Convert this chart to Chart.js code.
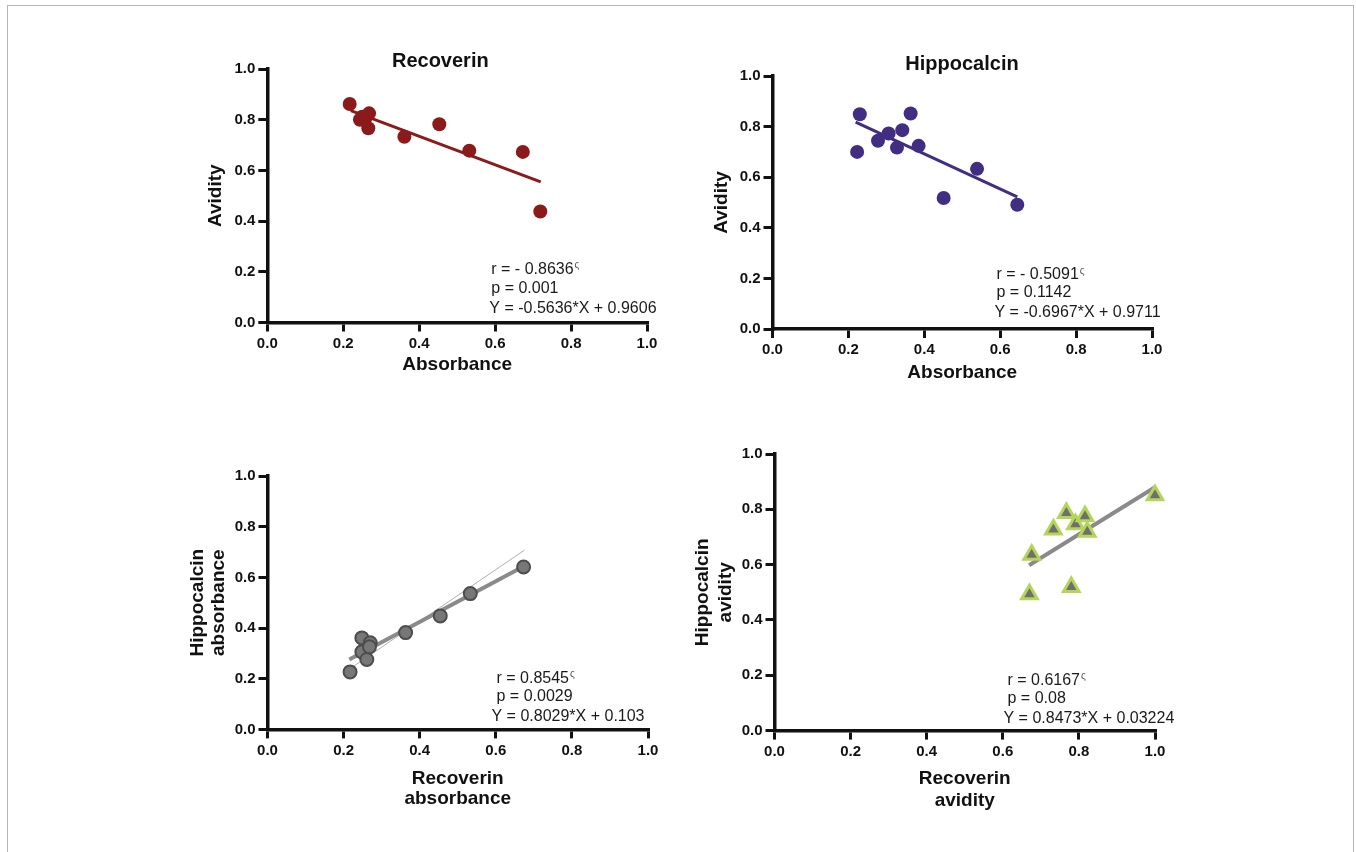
<!DOCTYPE html>
<html>
<head>
<meta charset="utf-8">
<title>Recoverin / Hippocalcin</title>
<script src="https://cdn.jsdelivr.net/npm/chart.js@4.4.1/dist/chart.umd.min.js"></script>
<style>
  html, body { margin: 0; padding: 0; background: #fff; }
  body { width: 1356px; height: 852px; position: relative; overflow: hidden; }
  #cadre { position: absolute; left: 7px; top: 5px; width: 1347px; height: 900px;
           border: 1.5px solid #b5b5b5; box-sizing: border-box; }
  .panneau { position: absolute; }
</style>
</head>
<body>
<div id="cadre"></div>
<div class="panneau" id="p1"></div>
<div class="panneau" id="p2"></div>
<div class="panneau" id="p3"></div>
<div class="panneau" id="p4"></div>

<script>
// Données
const recAbsorbance   = [0.217, 0.244, 0.250, 0.258, 0.268, 0.266, 0.361, 0.453, 0.532, 0.673, 0.719];
const recAvidite      = [0.862, 0.800, 0.812, 0.805, 0.825, 0.766, 0.733, 0.782, 0.678, 0.673, 0.438];
const recDroiteX      = [0.220, 0.720];
const recDroiteY      = [0.836, 0.555];

const hipAbsorbance   = [0.230, 0.223, 0.278, 0.306, 0.328, 0.342, 0.364, 0.385, 0.451, 0.539, 0.645];
const hipAvidite      = [0.849, 0.700, 0.744, 0.773, 0.717, 0.786, 0.852, 0.724, 0.518, 0.633, 0.491];
const hipDroiteX      = [0.219, 0.645];
const hipDroiteY      = [0.818, 0.522];

const absRecX         = [0.217, 0.248, 0.248, 0.261, 0.270, 0.268, 0.363, 0.454, 0.533, 0.673];
const absHipY         = [0.227, 0.361, 0.306, 0.276, 0.342, 0.326, 0.382, 0.448, 0.536, 0.641];
const absDroiteX      = [0.215, 0.675];
const absDroiteY      = [0.276, 0.645];
const absFineX        = [0.220, 0.675];
const absFineY        = [0.243, 0.707];

const avRecX          = [0.676, 0.670, 0.733, 0.767, 0.791, 0.780, 0.816, 0.822, 1.000];
const avHipY          = [0.636, 0.493, 0.727, 0.787, 0.746, 0.519, 0.775, 0.719, 0.851];
const avDroiteX       = [0.669, 1.000];
const avDroiteY       = [0.598, 0.880];

const TICKS_AXES      = [0, 0.2, 0.4, 0.6, 0.8, 1.0];

const NOTES_REC = ['r = - 0.8636', 'p = 0.001', 'Y = -0.5636*X + 0.9606'];
const NOTES_HIP = ['r = - 0.5091', 'p = 0.1142', 'Y = -0.6967*X + 0.9711'];
const NOTES_ABS = ['r = 0.8545', 'p = 0.0029', 'Y = 0.8029*X + 0.103'];
const NOTES_AV  = ['r = 0.6167', 'p = 0.08', 'Y = 0.8473*X + 0.03224'];

const POLICE = "'Liberation Sans', Arial, Helvetica, sans-serif";
Chart.defaults.font.family = POLICE;
Chart.defaults.color = '#111';

/**
 * Assemble deux tableaux en une liste de points {x, y}
 */
function points(xs, ys) {
    return xs.map((x, i) => ({ x: x, y: ys[i] }));
}

/**
 * Options communes d'un axe linéaire 0 → 1
 */
function optionsAxe(titre, hauteurLigne, taille, horizontal) {
    return {
        type     : 'linear',
        position : horizontal ? 'bottom' : 'left',
        min      : 0,
        max      : 1,
        afterBuildTicks : axe => { axe.ticks = TICKS_AXES.map(v => ({ value: v })); },
        ticks    : {
            padding  : 3,
            color    : '#111',
            font     : { size: 15, weight: 'bold' },
            callback : v => Number(v).toFixed(1),
            maxRotation : 0,
            autoSkip : false
        },
        grid     : {
            drawOnChartArea : false,
            drawTicks       : true,
            tickLength      : 9,
            lineWidth       : 3,
            color           : '#111'
        },
        border   : { display: true, width: 3.5, color: '#111' },
        title    : {
            display : true,
            text    : titre,
            color   : '#111',
            padding : 0,
            font    : { size: 19, weight: 'bold', lineHeight: hauteurLigne }
        },
        afterFit : axe => {
            if (horizontal) { axe.height = taille; } else { axe.width = taille; }
        }
    };
}

/**
 * Plugin qui écrit le titre du panneau et les statistiques (r, p, équation)
 */
function pluginNotes(notes) {
    return {
        id : 'notes',
        afterDraw(chart) {
            const ctx  = chart.ctx;
            const zone = chart.chartArea;
            ctx.save();
            ctx.fillStyle    = '#111';
            ctx.textBaseline = 'middle';
            if (notes.titre) {
                ctx.font      = 'bold 20px ' + POLICE;
                ctx.textAlign = 'center';
                ctx.fillText(notes.titre, zone.left + notes.titreDx, zone.top + notes.titreDy);
            }
            ctx.textAlign = 'left';
            notes.lignes.forEach((texte, i) => {
                const x = zone.left + notes.dx[i];
                const y = zone.bottom - notes.dy[i];
                ctx.font      = '16px ' + POLICE;
                ctx.fillStyle = '#1a1a1a';
                ctx.fillText(texte, x, y);
                if (i === 0) {
                    const w = ctx.measureText(texte).width;
                    ctx.font      = '10px ' + POLICE;
                    ctx.fillStyle = '#555';
                    ctx.fillText('ς', x + w + 1, y - 4);
                }
            });
            ctx.restore();
        }
    };
}

/**
 * Configuration d'un nuage de points avec ses droites
 */
function configNuage(p) {
    return {
        type : 'scatter',
        data : { datasets: p.jeux() },
        options : {
            responsive : false,
            animation  : false,
            layout     : { padding: { top: 30, right: 40, left: 0, bottom: 0 } },
            plugins    : { legend: { display: false }, tooltip: { enabled: false } },
            scales     : {
                x : optionsAxe(p.titreX, p.ligneX, p.hauteurAxeX, true),
                y : optionsAxe(p.titreY, p.ligneY, p.largeurAxeY, false)
            }
        },
        plugins : [pluginNotes(p.notes)]
    };
}

/**
 * Crée le graphique, puis corrige la taille et la position du canvas
 * pour que la zone de tracé tombe sur la cible.
 */
function creerPanneau(id, cible, p) {
    const conteneur = document.getElementById(id);
    let largeur = p.largeurAxeY + cible.w + 60;
    let hauteur = 40 + cible.h + p.hauteurAxeX;

    function construire() {
        conteneur.innerHTML = '';
        const canvas = document.createElement('canvas');
        canvas.width  = Math.round(largeur);
        canvas.height = Math.round(hauteur);
        conteneur.appendChild(canvas);
        return new Chart(canvas, configNuage(p));
    }

    let graphique = construire();
    const zone = graphique.chartArea;
    largeur += cible.w - (zone.right - zone.left);
    hauteur += cible.h - (zone.bottom - zone.top);
    graphique.destroy();
    graphique = construire();

    const z = graphique.chartArea;
    conteneur.style.left = (cible.x - z.left) + 'px';
    conteneur.style.top  = (cible.y - z.top) + 'px';
}

function jeuPoints(data, options) {
    return Object.assign({ data: data, clip: false, pointRadius: 7, pointHoverRadius: 7, showLine: false }, options);
}

function jeuDroite(data, couleur, epaisseur) {
    return { data: data, clip: false, showLine: true, pointRadius: 0, pointHoverRadius: 0,
             borderColor: couleur, borderWidth: epaisseur, backgroundColor: couleur };
}

function selectionneurGraphique() {
    const ROUGE  = '#8b1a1a';
    const VIOLET = '#412d82';
    const GRIS   = '#8a8a8a';

    creerPanneau('p1', { x: 267.7, y: 69, w: 379, h: 253.7 }, {
        titreX : 'Absorbance', titreY : 'Avidity',
        ligneX : 1.2, ligneY : 1.2, hauteurAxeX : 53.5, largeurAxeY : 63.3,
        jeux : () => [
            jeuPoints(points(recAbsorbance, recAvidite), { backgroundColor: ROUGE, borderColor: ROUGE, borderWidth: 0 }),
            jeuDroite(points(recDroiteX, recDroiteY), ROUGE, 3)
        ],
        notes : { titre: 'Recoverin', titreDx: 173, titreDy: -8,
                  lignes: NOTES_REC, dx: [224, 224, 222], dy: [53, 34, 14] }
    });

    creerPanneau('p2', { x: 772.7, y: 75.7, w: 379.6, h: 253.6 }, {
        titreX : 'Absorbance', titreY : 'Avidity',
        ligneX : 1.2, ligneY : 1.2, hauteurAxeX : 55, largeurAxeY : 62.5,
        jeux : () => [
            jeuPoints(points(hipAbsorbance, hipAvidite), { backgroundColor: VIOLET, borderColor: VIOLET, borderWidth: 0 }),
            jeuDroite(points(hipDroiteX, hipDroiteY), VIOLET, 3)
        ],
        notes : { titre: 'Hippocalcin', titreDx: 189.5, titreDy: -12,
                  lignes: NOTES_HIP, dx: [224, 224, 222], dy: [54, 36, 16] }
    });

    creerPanneau('p3', { x: 267.3, y: 475.7, w: 380.4, h: 253.6 }, {
        titreX : ['Recoverin', 'absorbance'], titreY : ['Hippocalcin', 'absorbance'],
        ligneX : 1.07, ligneY : 1.12, hauteurAxeX : 79.6, largeurAxeY : 80.5,
        jeux : () => [
            jeuPoints(points(absRecX, absHipY), { backgroundColor: '#777', borderColor: '#4d4d4d', borderWidth: 2, pointRadius: 6.5 }),
            jeuDroite(points(absDroiteX, absDroiteY), GRIS, 4),
            jeuDroite(points(absFineX, absFineY), '#9a9a9a', 0.8)
        ],
        notes : { lignes: NOTES_ABS, dx: [229, 229, 224], dy: [51, 33, 13] }
    });

    creerPanneau('p4', { x: 774, y: 454, w: 380.3, h: 276 }, {
        titreX : ['Recoverin', 'avidity'], titreY : ['Hippocalcin', 'avidity'],
        ligneX : 1.12, ligneY : 1.17, hauteurAxeX : 80.4, largeurAxeY : 82.5,
        jeux : () => [
            jeuPoints(points(avRecX, avHipY), { pointStyle: 'triangle', backgroundColor: '#6f6f6f',
                                                borderColor: '#b5d55a', borderWidth: 3, pointRadius: 9 }),
            jeuDroite(points(avDroiteX, avDroiteY), GRIS, 4)
        ],
        notes : { lignes: NOTES_AV, dx: [233, 233, 229], dy: [50, 32, 12] }
    });
}

document.addEventListener('DOMContentLoaded', selectionneurGraphique);
</script>
</body>
</html>
